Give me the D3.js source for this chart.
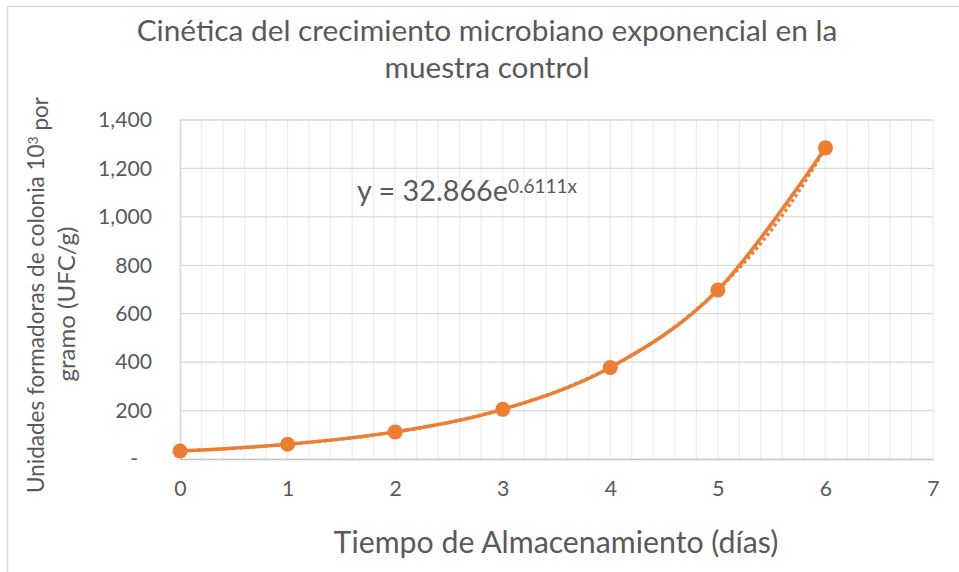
<!DOCTYPE html>
<html><head><meta charset="utf-8">
<script src="https://cdn.jsdelivr.net/npm/d3@7"></script>
<style>body{margin:0;background:#fff}svg{display:block}text{font-family:Lato,"Open Sans",sans-serif;fill:#595959}</style>
</head><body><svg id="c" width="959" height="572"></svg>
<script>
const days = [0, 1, 2, 3, 4, 5, 6];
const ufc = [33, 61, 112, 205, 378, 698, 1285];
const xTicks = [0, 1, 2, 3, 4, 5, 6, 7];
const yTicks = [0, 200, 400, 600, 800, 1000, 1200, 1400];
const trendA = 32.866, trendB = 0.6111;
const titleLines = ["Cinética del crecimiento microbiano exponencial en la", "muestra control"];
const xTitle = "Tiempo de Almacenamiento (días)";
const yTitle1 = "Unidades formadoras de colonia 10";
const yTitle2 = "gramo (UFC/g)";

const svg = d3.select("#c");
const orange = "#ED7D31";
const x = d3.scaleLinear().domain([0, 7]).range([180, 933]);
const y = d3.scaleLinear().domain([0, 1400]).range([459, 120]);

// fit a text's font size so its width matches a target width
function fit(sel, target) {
  sel.style("font-size", "100px");
  const w = sel.node().getComputedTextLength();
  const fs = 100 * target / w;
  sel.style("font-size", fs + "px");
  return fs;
}

// chart border (cropped)
svg.append("line").attr("x1", 7.5).attr("x2", 7.5).attr("y1", 6.5).attr("y2", 572).attr("stroke", "#D9D9D9").attr("stroke-width", 1.5);
svg.append("line").attr("x1", 7.5).attr("x2", 959).attr("y1", 6.5).attr("y2", 6.5).attr("stroke", "#D9D9D9").attr("stroke-width", 1.5);

// minor vertical gridlines
const minor = d3.range(0, 7.0001, 0.2).map(v => +v.toFixed(1));
svg.append("g").selectAll("line").data(minor).join("line")
  .attr("x1", d => x(d)).attr("x2", d => x(d)).attr("y1", y(1400)).attr("y2", y(0))
  .attr("stroke", "#EDEDED").attr("stroke-width", 1.3);
// horizontal gridlines
svg.append("g").selectAll("line").data(yTicks.slice(1)).join("line")
  .attr("x1", x(0)).attr("x2", x(7)).attr("y1", d => y(d)).attr("y2", d => y(d))
  .attr("stroke", "#D9D9D9").attr("stroke-width", 1.3);

// axes
const yAxis = svg.append("g").attr("transform", `translate(${x(0)},0)`)
  .call(d3.axisLeft(y).tickValues(yTicks).tickSize(0).tickPadding(28)
    .tickFormat(d => d === 0 ? "-" : d3.format(",")(d)));
yAxis.select(".domain").attr("stroke", "#D9D9D9").attr("stroke-width", 1.5);
const tickFs = fit(yAxis.selectAll(".tick").filter(d => d === 1400).select("text"), 54);
yAxis.selectAll("text").style("font-size", tickFs + "px").attr("fill", "#595959");
yAxis.selectAll(".tick").filter(d => d === 0).select("text").attr("dx", "-14");

const xAxis = svg.append("g").attr("transform", `translate(0,${y(0)})`)
  .call(d3.axisBottom(x).tickValues(xTicks).tickSize(0).tickPadding(22).tickFormat(d3.format("d")));
xAxis.select(".domain").attr("stroke", "#BFBFBF").attr("stroke-width", 1.5);
xAxis.selectAll("text").style("font-size", tickFs + "px").attr("fill", "#595959");

// trendline (dotted)
const tx = d3.range(0, 6.0001, 0.05);
svg.append("path").datum(tx.map(v => [v, trendA * Math.exp(trendB * v)]))
  .attr("fill", "none").attr("stroke", orange).attr("stroke-width", 3.2)
  .attr("stroke-dasharray", "3,3")
  .attr("d", d3.line().x(d => x(d[0])).y(d => y(d[1])));

// data line
const pts = days.map((d, i) => [d, ufc[i]]);
svg.append("path").datum(pts).attr("fill", "none").attr("stroke", orange).attr("stroke-width", 3.5)
  .attr("d", d3.line().x(d => x(d[0])).y(d => y(d[1])).curve(d3.curveCardinal.tension(0)));
svg.append("g").selectAll("circle").data(pts).join("circle")
  .attr("cx", d => x(d[0])).attr("cy", d => y(d[1])).attr("r", 7.5).attr("fill", orange);

// equation
const eq = svg.append("text").attr("x", 357).attr("y", 201);
eq.append("tspan").text("y = " + trendA + "e");
eq.append("tspan").attr("dy", "-0.42em").style("font-size", "0.66em").text(trendB + "x");
fit(eq, 220);

// title
fit(svg.append("text").attr("x", 487).attr("y", 41).attr("text-anchor", "middle").text(titleLines[0]), 701);
fit(svg.append("text").attr("x", 487).attr("y", 78).attr("text-anchor", "middle").text(titleLines[1]), 205);

// x title
fit(svg.append("text").attr("x", 556).attr("y", 553).attr("text-anchor", "middle").text(xTitle), 445);

// y title
const yt = svg.append("text").attr("transform", "translate(44,295) rotate(-90)").attr("text-anchor", "middle");
yt.append("tspan").text(yTitle1);
yt.append("tspan").attr("dy", "-0.42em").style("font-size", "0.62em").text("3");
yt.append("tspan").attr("dy", "0.42em").text(" por");
fit(yt, 396);
fit(svg.append("text").attr("transform", "translate(75,304) rotate(-90)").attr("text-anchor", "middle").text(yTitle2), 155);
</script></body></html>
